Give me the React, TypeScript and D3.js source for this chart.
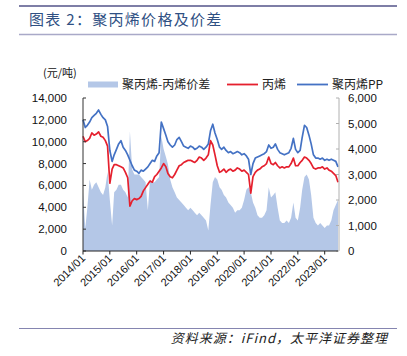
import React from "react";
import * as d3 from "d3";

const START = new Date(2014, 0, 1);
const END = new Date(2023, 6, 1);
const months: Date[] = d3.timeMonth.range(START, new Date(2023, 7, 1));

const ppPrice = [
  12000, 11300, 11500, 11800, 12200, 12400, 12600, 12900, 12500, 12200, 12000, 11400,
  9200, 8200, 8800, 9300, 9800, 10100, 9500, 9200, 8800, 8300, 7800, 7400,
  7300, 7100, 7400, 7300, 7500, 7700, 8000, 8300, 8200, 8700, 9000, 11800,
  11200, 10600, 10000, 9700, 9500, 9700, 10200, 10400, 10000, 9600, 9500, 9400,
  9600, 9500, 9300, 9400, 9600, 9500, 9300, 9500, 9800, 11000, 11600, 10800,
  10200, 9500, 9300, 9500, 9200, 9000, 9100, 8900, 9000, 9100, 9000, 8800,
  8900, 8700, 8400, 7000, 8000, 8500, 8600, 8700, 8800, 8900, 9100, 9700,
  9400, 9500, 9800, 9300, 9000, 8900, 8800, 8900, 9000, 9400, 10300, 9300,
  9000, 9200, 10400, 11500, 11300, 10600, 9800, 8800, 8500, 8500, 8400, 8500,
  8300, 8400, 8300, 8400, 8300, 8200, 7700,
];

const propylenePrice = [
  10500, 10000, 10100, 10300, 10800, 10600, 10700, 10900, 10500, 10400, 10100, 9600,
  6200, 7500, 7900, 7900, 7800, 7700, 7600, 7200, 6700, 4100, 4600, 4800,
  4700, 4800, 5000, 5500, 5800, 6100, 6400, 6300, 6800, 7000, 7300, 7600,
  8000, 7700, 7100, 6800, 6700, 7000, 7400, 7800, 7900, 8100, 8200, 8300,
  8300, 8200, 8100, 8300, 8600, 8500, 8300, 8500, 8800, 10100, 9700, 8800,
  7800, 7200, 7300, 7500, 7200, 7400, 7500, 7300, 7400, 7600, 7500, 7300,
  7400, 7200, 7000, 5300, 6800, 7200, 7400, 7500, 7700, 7800, 8000, 8600,
  8000, 7900, 8100, 7800, 7600, 7700, 7600, 7700, 7700, 8000, 8500, 7800,
  7800, 8100, 8300, 8600, 8500, 8300, 8000, 7600, 7500, 7600, 7600, 7700,
  7500, 7600, 7400, 7300, 7100, 6900, 6300,
];

const spread = [
  2300, 900, 1700, 2800, 2400, 2600, 2700, 2500, 2300, 2200, 2500, 3100,
  2000, 1000, 2300, 2400, 2600, 2600, 2400, 2300, 2100, 4700, 3200, 3000,
  3000, 3000, 2900, 2800, 2700, 1600, 2800, 2700, 2700, 2800, 2900, 4500,
  4000, 3700, 3400, 2800, 2500, 2300, 2100, 2000, 1900, 1800, 1700, 1600,
  1700, 1600, 1500, 1400, 1500, 1400, 1300, 1200, 800, 1800, 2700, 2900,
  2800, 2500, 2400, 2200, 2100, 1900, 1800, 1700, 1500, 1600, 1600, 1700,
  2000, 2400, 2500, 2300, 1900, 1700, 1400, 1300, 1300, 1400, 1600, 2500,
  2100, 2200, 2300, 1700, 1200, 1100, 1100, 1200, 1100, 1300, 1900, 1300,
  1200, 1700, 2400, 2900, 3000, 2800, 2200, 1300, 1100, 1000, 1100, 1000,
  900, 1000, 1000, 1200, 1600, 1800, 2000,
];

const leftTicks = [0, 2000, 4000, 6000, 8000, 10000, 12000, 14000];
const rightTicks = [0, 1000, 2000, 3000, 4000, 5000, 6000];
const xTickYears = [2014, 2015, 2016, 2017, 2018, 2019, 2020, 2021, 2022, 2023];

const TITLE = "图表 2：聚丙烯价格及价差";
const UNIT = "(元/吨)";
const LEGEND = ["聚丙烯-丙烯价差", "丙烯", "聚丙烯PP"];
const SOURCE = "资料来源：iFind，太平洋证券整理";

const COLORS = { area: "#b4c7e7", red: "#e5202e", blue: "#4472c4" };
const CJK = "'Noto Sans CJK SC', 'Noto Sans', sans-serif";
const NUM = "'Liberation Sans', Arial, sans-serif";

export default function App() {
  const W = 407, H = 356;
  const L = 83, R = 338, T = 98, B = 251;
  const x = d3.scaleTime().domain([START, END]).range([L, R]);
  const yL = d3.scaleLinear().domain([0, 14000]).range([B, T]);
  const yR = d3.scaleLinear().domain([0, 6000]).range([B, T]);
  const fmt = d3.format(",");

  const area = d3.area<number>()
    .x((_, i) => x(months[i]))
    .y0(B)
    .y1((d) => yR(d));
  const lineL = d3.line<number>()
    .x((_, i) => x(months[i]))
    .y((d) => yL(d));

  return (
    <svg width={W} height={H} style={{ position: "absolute", left: 0, top: 0, background: "#fff" }}>
      <rect x={0} y={0} width={W} height={H} fill="#fff" />
      {/* header */}
      <line x1={19} x2={397} y1={6} y2={6} stroke="#7e7ea6" strokeWidth={2} />
      <text x={29} y={25} fontFamily={CJK} fontSize={15} letterSpacing={1.3} fill="#2f5083">{TITLE}</text>
      <line x1={19} x2={397} y1={34.5} y2={34.5} stroke="#a9a9c8" strokeWidth={1.3} />

      {/* unit */}
      <text x={43} y={77} fontFamily={CJK} fontSize={11} fill="#111">{UNIT}</text>

      {/* legend */}
      <rect x={88} y={81.5} width={30} height={6} fill={COLORS.area} />
      <text x={122} y={88.5} fontFamily={CJK} fontSize={12} fill="#222">{LEGEND[0]}</text>
      <line x1={227} x2={258} y1={84.5} y2={84.5} stroke={COLORS.red} strokeWidth={1.8} />
      <text x={262} y={88.5} fontFamily={CJK} fontSize={12} fill="#222">{LEGEND[1]}</text>
      <line x1={297} x2={328} y1={84.5} y2={84.5} stroke={COLORS.blue} strokeWidth={1.8} />
      <text x={332} y={88.5} fontFamily={CJK} fontSize={12} fill="#222">{LEGEND[2]}</text>

      {/* data */}
      <path d={area(spread) || ""} fill={COLORS.area} />
      <path d={lineL(propylenePrice) || ""} fill="none" stroke={COLORS.red} strokeWidth={1.7} strokeLinejoin="round" />
      <path d={lineL(ppPrice) || ""} fill="none" stroke={COLORS.blue} strokeWidth={1.7} strokeLinejoin="round" />

      {/* left axis */}
      <line x1={L} x2={L} y1={T} y2={B} stroke="#333" strokeWidth={1} />
      {leftTicks.map((t) => (
        <g key={"l" + t}>
          <line x1={L} x2={L + 3} y1={yL(t)} y2={yL(t)} stroke="#333" />
          <text x={67} y={yL(t) + 4} textAnchor="end" fontFamily={NUM} fontSize={11.5} fill="#111">{fmt(t)}</text>
        </g>
      ))}

      {/* right axis */}
      <line x1={R + 1} x2={R + 1} y1={T} y2={B} stroke="#b0b0b0" strokeWidth={1} />
      {rightTicks.map((t) => (
        <g key={"r" + t}>
          <line x1={R - 2} x2={R + 1} y1={yR(t)} y2={yR(t)} stroke="#b0b0b0" />
          <text x={348} y={yR(t) + 4} textAnchor="start" fontFamily={NUM} fontSize={11.5} fill="#111">{fmt(t)}</text>
        </g>
      ))}

      {/* bottom axis */}
      <line x1={L} x2={R} y1={B} y2={B} stroke="#222" strokeWidth={1.2} />
      {xTickYears.map((yr) => {
        const xx = x(new Date(yr, 0, 1));
        return (
          <g key={"x" + yr}>
            <line x1={xx} x2={xx} y1={B} y2={B + 3.5} stroke="#222" />
            <text
              transform={`translate(${xx + 3},${B + 8}) rotate(-45)`}
              textAnchor="end"
              fontFamily={NUM}
              fontSize={11}
              fill="#111"
            >{`${yr}/01`}</text>
          </g>
        );
      })}

      {/* footer */}
      <line x1={19} x2={397} y1={328.5} y2={328.5} stroke="#8585b0" strokeWidth={1.2} />
      <text x={388} y={343} textAnchor="end" fontFamily={CJK} fontSize={13} letterSpacing={1} fontStyle="italic" fill="#222">{SOURCE}</text>
    </svg>
  );
}
